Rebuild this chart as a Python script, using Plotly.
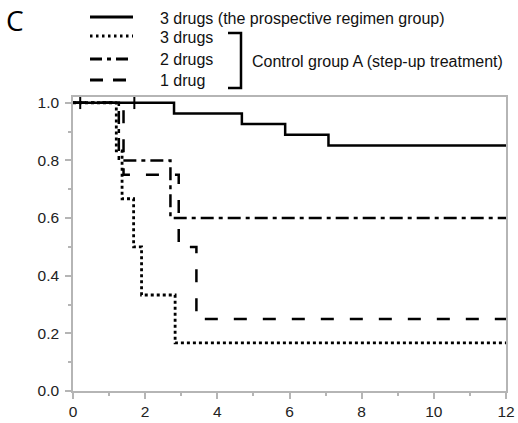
import plotly.graph_objects as go

# ---- data ----
t_prosp = [0, 2.80, 4.68, 5.88, 7.08, 12]
s_prosp = [1.0, 0.963, 0.926, 0.889, 0.852, 0.852]
censor_prosp_t = [0.2, 1.7]
censor_prosp_s = [1.0, 1.0]

t_ctrl3 = [0, 1.20, 1.36, 1.68, 1.90, 2.83, 12]
s_ctrl3 = [1.0, 0.833, 0.667, 0.5, 0.333, 0.167, 0.167]

t_ctrl2 = [0, 1.27, 2.70, 12]
s_ctrl2 = [1.0, 0.8, 0.6, 0.6]

t_ctrl1 = [0, 1.40, 2.93, 3.42, 12]
s_ctrl1 = [1.0, 0.75, 0.5, 0.25, 0.25]

legend_labels = ["3 drugs (the prospective regimen group)", "3 drugs", "2 drugs", "1 drug"]
group_label = "Control group A (step-up treatment)"
panel_label = "C"

x_ticks = [0, 2, 4, 6, 8, 10, 12]
y_ticks = [0.0, 0.2, 0.4, 0.6, 0.8, 1.0]

# ---- styles ----
W, H = 518, 423
ML, MR, MT, MB = 73, 12, 97, 32
FONT = "Arial, Liberation Sans, sans-serif"
DOT = "3px,3px"
DASHDOT = "13px,5px,4px,5px"
LONGDASH = "13px,16px"
LW = 2.5
AXC = "#b5b5b5"

fig = go.Figure()
fig.add_trace(go.Scatter(x=t_prosp, y=s_prosp, mode="lines", line=dict(shape="hv", color="black", width=LW)))
fig.add_trace(go.Scatter(x=t_ctrl3, y=s_ctrl3, mode="lines", line=dict(shape="hv", color="black", width=2.8, dash=DOT)))
fig.add_trace(go.Scatter(x=t_ctrl2, y=s_ctrl2, mode="lines", line=dict(shape="hv", color="black", width=LW, dash=DASHDOT)))
fig.add_trace(go.Scatter(x=t_ctrl1, y=s_ctrl1, mode="lines", line=dict(shape="hv", color="black", width=LW, dash=LONGDASH)))
fig.add_trace(go.Scatter(x=censor_prosp_t, y=censor_prosp_s, mode="markers",
                         marker=dict(symbol="line-ns", size=9, line=dict(width=2, color="black"))))

# pixel -> paper helpers for the hand-drawn legend
pw = W - ML - MR
ph = H - MT - MB
def px(x):
    return (x - ML) / pw
def py(y):
    return (H - MB - y) / ph

shapes = []
annotations = []
leg_rows = [17, 36, 59, 80]
leg_dash = ["solid", "2.5px,3.5px", "12px,5px,4px,5px", "13px,10px"]
for row, d, lab in zip(leg_rows, leg_dash, legend_labels):
    shapes.append(dict(type="line", xref="paper", yref="paper", x0=px(90), x1=px(133), y0=py(row), y1=py(row),
                       line=dict(color="black", width=3, dash=d)))
    annotations.append(dict(text=lab, xref="paper", yref="paper", x=px(158), y=py(row + 1), xanchor="left",
                            yanchor="middle", showarrow=False, font=dict(family=FONT, size=16, color="#111")))
# bracket
shapes.append(dict(type="path", xref="paper", yref="paper",
                   path=f"M {px(228)} {py(33)} L {px(241)} {py(33)} L {px(241)} {py(88)} L {px(228)} {py(88)}",
                   line=dict(color="black", width=2.5)))
annotations.append(dict(text=group_label, xref="paper", yref="paper", x=px(250), y=py(62), xanchor="left",
                        yanchor="middle", showarrow=False, font=dict(family=FONT, size=16, color="#111")))
annotations.append(dict(text=panel_label, xref="paper", yref="paper", x=px(4), y=py(20), xanchor="left",
                        yanchor="middle", showarrow=False, font=dict(family="Open Sans, sans-serif", size=28, color="black")))

axis_common = dict(showline=True, mirror=True, linecolor=AXC, linewidth=1.5, ticks="outside",
                   tickcolor=AXC, ticklen=6, tickwidth=1.5, showgrid=False, zeroline=False,
                   automargin=False, tickfont=dict(family=FONT, size=15.5, color="#222"))

fig.update_layout(
    width=W, height=H, margin=dict(l=ML, r=MR, t=MT, b=MB, autoexpand=False),
    paper_bgcolor="white", plot_bgcolor="white", showlegend=False,
    shapes=shapes, annotations=annotations,
    xaxis=dict(range=[0, 12], tickvals=x_ticks, ticktext=[str(v) for v in x_ticks],
               minor=dict(ticks="outside", dtick=1, ticklen=3, tickcolor=AXC, tickwidth=1.5),
               **axis_common),
    yaxis=dict(range=[0, 1.02], tickvals=y_ticks, ticktext=[f"{v:.1f}" for v in y_ticks],
               ticklabelstandoff=3,
               minor=dict(ticks="outside", dtick=0.1, tick0=0, ticklen=3, tickcolor=AXC, tickwidth=1.5),
               **axis_common),
)

fig.write_html("out.html", config={"displayModeBar": False},
               post_script="document.body.style.margin='0';")
